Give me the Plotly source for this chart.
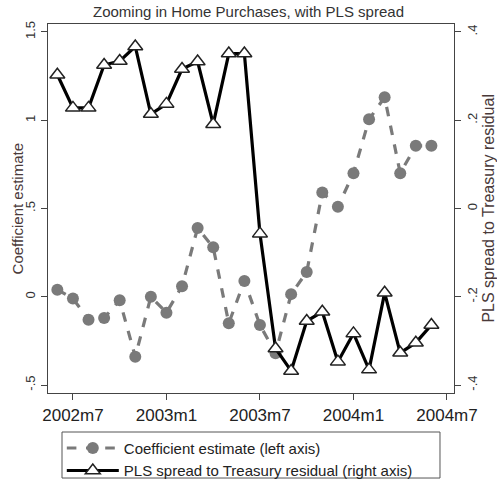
import plotly.graph_objects as go

months = ["2002m6", "2002m7", "2002m8", "2002m9", "2002m10", "2002m11", "2002m12",
          "2003m1", "2003m2", "2003m3", "2003m4", "2003m5", "2003m6", "2003m7",
          "2003m8", "2003m9", "2003m10", "2003m11", "2003m12", "2004m1", "2004m2",
          "2004m3", "2004m4", "2004m5", "2004m6"]
coef = [0.04, -0.01, -0.13, -0.12, -0.02, -0.34, 0.00, -0.09, 0.06, 0.39, 0.28,
        -0.15, 0.09, -0.16, -0.32, 0.015, 0.14, 0.59, 0.51, 0.70, 1.005, 1.13,
        0.70, 0.855, 0.855]
pls = [0.303, 0.228, 0.228, 0.325, 0.334, 0.367, 0.214, 0.237, 0.316, 0.333,
       0.191, 0.351, 0.351, -0.057, -0.317, -0.368, -0.255, -0.234, -0.347,
       -0.283, -0.365, -0.191, -0.327, -0.304, -0.264]
xtick_labels = ["2002m7", "2003m1", "2003m7", "2004m1", "2004m7"]
left_ticks = [-0.5, 0, 0.5, 1, 1.5]
left_labels = ["-.5", "0", ".5", "1", "1.5"]
right_ticks = [-0.4, -0.2, 0, 0.2, 0.4]
right_labels = ["-.4", "-.2", "0", ".2", ".4"]
left_title = "Coefficient estimate"
right_title = "PLS spread to Treasury residual"


def midx(s):
    y, m = s.split("m")
    return (int(y) - 2002) * 12 + int(m) - 1


x = [midx(s) for s in months]
xtick_vals = [midx(s) for s in xtick_labels]

FONT = "Liberation Sans, Arial, sans-serif"
AX = "#444444"

fig = go.Figure()
fig.add_trace(go.Scatter(
    x=x, y=coef, name="Coefficient estimate (left axis)", mode="lines+markers",
    line=dict(color="#7a7a7a", width=3.2, dash="dash"),
    marker=dict(symbol="circle", size=12, color="#7a7a7a"),
    yaxis="y"))
fig.add_trace(go.Scatter(
    x=x, y=pls, name="PLS spread to Treasury residual (right axis)",
    mode="lines+markers",
    line=dict(color="black", width=3.2),
    marker=dict(symbol="triangle-up", size=13, color="white",
                line=dict(color="#222222", width=1.5)),
    yaxis="y2"))

fig.update_layout(
    width=497, height=480,
    margin=dict(l=48, r=43, t=24, b=87, autoexpand=False),
    paper_bgcolor="white", plot_bgcolor="white",
    font=dict(family=FONT, color="#333333"),
    title=dict(text="Zooming in Home Purchases, with PLS spread", x=0.5, xanchor="center",
               y=0.975, yanchor="middle", font=dict(size=15, color="#333333")),
    xaxis=dict(range=[4.4, 30.45], tickvals=xtick_vals, ticktext=xtick_labels,
               showgrid=False, zeroline=False, showline=True, linecolor=AX, linewidth=1.2,
               mirror=True, ticks="outside", ticklen=6, tickcolor=AX,
               tickfont=dict(size=17, color="#222222")),
    yaxis=dict(range=[-0.545, 1.545], tickvals=left_ticks, ticktext=left_labels,
               tickangle=-90, showgrid=False, zeroline=False, showline=True,
               linecolor=AX, linewidth=1.2, mirror=True, ticks="outside", ticklen=6,
               tickcolor=AX, tickfont=dict(size=13, color="#333333"),
               ticklabelstandoff=1),
    yaxis2=dict(range=[-0.418, 0.418], tickvals=right_ticks, ticktext=right_labels,
                tickangle=-90, overlaying="y", side="right", showgrid=False,
                zeroline=False, showline=True, linecolor=AX, linewidth=1.2,
                ticks="outside", ticklen=6, tickcolor=AX,
                tickfont=dict(size=13, color="#333333"),
                ticklabelstandoff=0),
    legend=dict(x=0.034, y=-0.105, xanchor="left", yanchor="top",
                borderwidth=0, bgcolor="rgba(0,0,0,0)",
                font=dict(size=15, color="#222222"), itemwidth=52,
                tracegroupgap=0),
    showlegend=True,
    shapes=[dict(type="rect", xref="paper", yref="paper",
                 x0=0.0345, x1=0.9655, y0=-0.2304, y1=-0.1057,
                 line=dict(color="#555555", width=1), fillcolor="rgba(0,0,0,0)")],
    annotations=[
        dict(text=left_title, xref="paper", yref="paper", x=-0.074, y=0.5,
             xanchor="center", yanchor="middle", textangle=-90, showarrow=False,
             font=dict(size=15, color="#4a3a3a")),
        dict(text=right_title, xref="paper", yref="paper", x=1.084, y=0.5,
             xanchor="center", yanchor="middle", textangle=-90, showarrow=False,
             font=dict(size=16, color="#4a3a3a")),
    ],
)

fig.write_html("out.html")
